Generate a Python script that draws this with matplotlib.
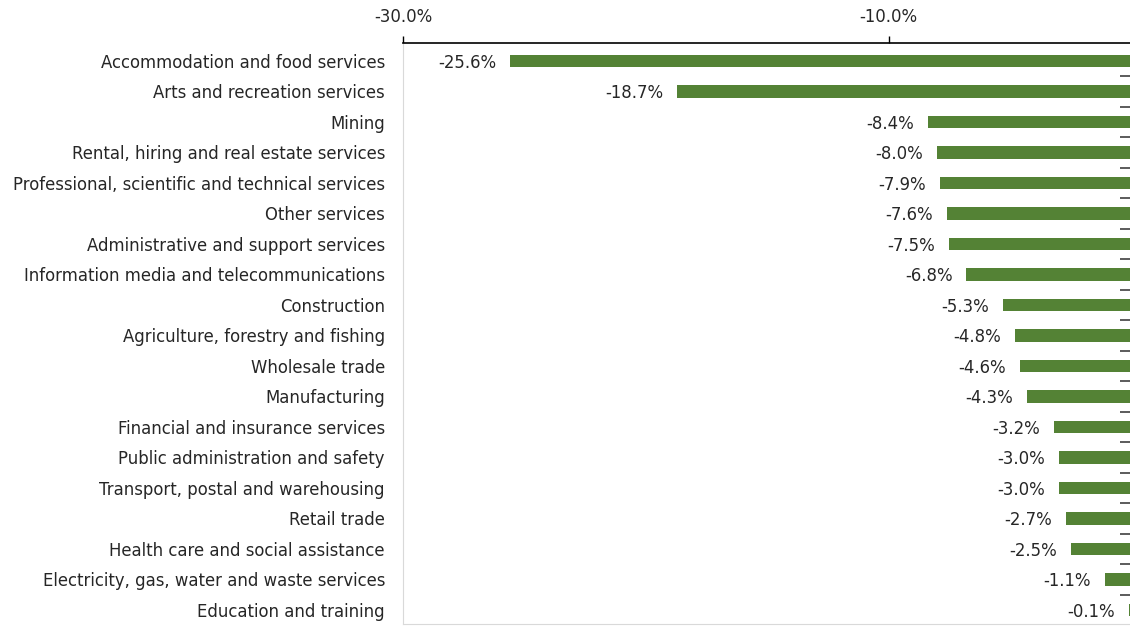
import numpy as np
import matplotlib
matplotlib.use("Agg")
import matplotlib.pyplot as plt
from matplotlib.ticker import FuncFormatter

industries = [
    "Accommodation and food services",
    "Arts and recreation services",
    "Mining",
    "Rental, hiring and real estate services",
    "Professional, scientific and technical services",
    "Other services",
    "Administrative and support services",
    "Information media and telecommunications",
    "Construction",
    "Agriculture, forestry and fishing",
    "Wholesale trade",
    "Manufacturing",
    "Financial and insurance services",
    "Public administration and safety",
    "Transport, postal and warehousing",
    "Retail trade",
    "Health care and social assistance",
    "Electricity, gas, water and waste services",
    "Education and training",
]
change = [-25.6, -18.7, -8.4, -8.0, -7.9, -7.6, -7.5, -6.8, -5.3, -4.8,
          -4.6, -4.3, -3.2, -3.0, -3.0, -2.7, -2.5, -1.1, -0.1]
x_ticks = [-30, -10]

plt.rcParams['font.family'] = ['DejaVu Sans']
text_col = '#262626'
fs = 11.9

fig = plt.figure(figsize=(11.30, 6.26), dpi=100)
ax = fig.add_axes([403 / 1130, 2 / 626, 728.5 / 1130, 581 / 626])

y = np.arange(len(industries))
ax.barh(y, change, height=0.4, color='#548235')

for yi, v in zip(y, change):
    ax.annotate(f"{v:.1f}%", (v, yi), xytext=(-10, 0), textcoords='offset points',
                ha='right', va='center_baseline', fontsize=fs, color=text_col)

ax.set_xlim(-30, 0)
ax.set_ylim(18.46, -0.59)

ax.xaxis.tick_top()
ax.set_xticks(x_ticks)
ax.xaxis.set_major_formatter(FuncFormatter(lambda v, p: f"{v:.1f}%"))
ax.tick_params(axis='x', which='major', direction='out', length=5, width=1,
               color='black', labelsize=fs, labelcolor=text_col, pad=7)

ax.set_yticks(y)
ax.set_yticklabels(industries)
ax.tick_params(axis='y', which='major', length=0, pad=13, labelsize=fs,
               labelcolor=text_col)
ax.set_yticks(y[:-1] + 0.5, minor=True)
ax.tick_params(axis='y', which='minor', left=False, right=True, direction='inout',
               length=18, width=1.2, color='#404040')

ax.spines['top'].set_color('black')
ax.spines['top'].set_linewidth(1.2)
ax.spines['left'].set_color('#d9d9d9')
ax.spines['bottom'].set_color('#d9d9d9')
ax.spines['right'].set_color('#404040')

fig.savefig("out.png", dpi=100)
